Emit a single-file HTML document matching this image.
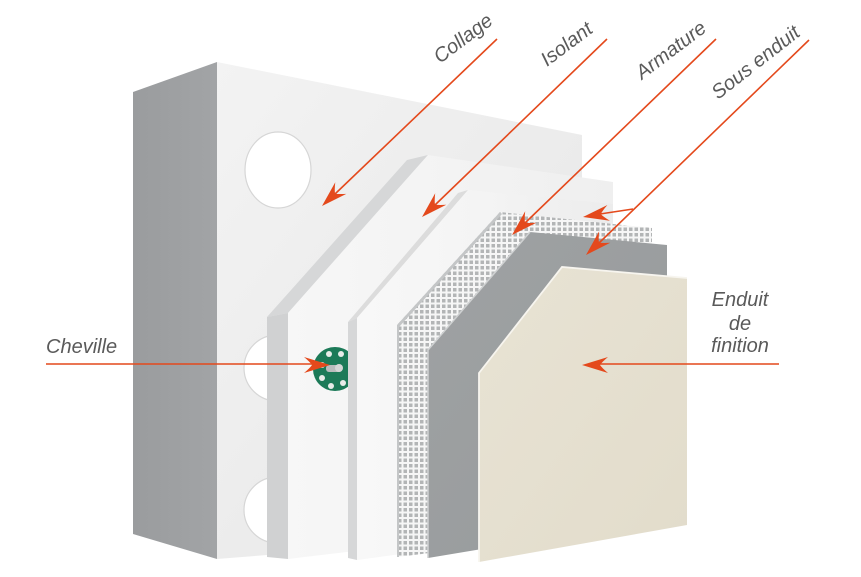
<!DOCTYPE html>
<html>
<head>
<meta charset="utf-8">
<style>
html,body{margin:0;padding:0;background:#fff;}
svg{display:block;}
text{font-family:"Liberation Sans",sans-serif;font-style:italic;font-size:20px;fill:#5a5a5a;}
</style>
</head>
<body>
<svg width="861" height="577" viewBox="0 0 861 577" xmlns="http://www.w3.org/2000/svg">
<defs>
  <linearGradient id="side" x1="0" y1="0" x2="1" y2="0">
    <stop offset="0" stop-color="#9a9c9e"/>
    <stop offset="1" stop-color="#a2a4a6"/>
  </linearGradient>
  <linearGradient id="front" x1="0" y1="0" x2="1" y2="1">
    <stop offset="0" stop-color="#f3f3f3"/>
    <stop offset="0.6" stop-color="#ebebeb"/>
    <stop offset="1" stop-color="#e2e2e2"/>
  </linearGradient>
  <linearGradient id="p1front" x1="0" y1="0" x2="1" y2="0">
    <stop offset="0" stop-color="#f7f7f7"/>
    <stop offset="1" stop-color="#efefef"/>
  </linearGradient>
  <linearGradient id="p2front" x1="0" y1="0" x2="1" y2="0">
    <stop offset="0" stop-color="#f8f8f8"/>
    <stop offset="0.5" stop-color="#f4f4f4"/>
    <stop offset="1" stop-color="#ececec"/>
  </linearGradient>
  <linearGradient id="grayL" x1="0" y1="0" x2="1" y2="1">
    <stop offset="0" stop-color="#9fa2a3"/>
    <stop offset="1" stop-color="#979a9c"/>
  </linearGradient>
  <linearGradient id="beige" x1="0" y1="0" x2="1" y2="1">
    <stop offset="0" stop-color="#e8e3d4"/>
    <stop offset="1" stop-color="#e2dccb"/>
  </linearGradient>
  <pattern id="mesh" width="5.5" height="5.5" patternUnits="userSpaceOnUse">
    <rect width="5.5" height="5.5" fill="#f6f6f6"/>
    <rect x="2" y="2" width="3.5" height="3.5" fill="#b3b5b6"/>
  </pattern>
  <path id="ah" d="M0,0 L-26,-8 Q-20,-3 -18,0 Q-20,3 -26,8 Z" fill="#e4491c"/>
</defs>

<!-- Block -->
<polygon points="133,92 217,62 217,559 133,534" fill="url(#side)"/>
<polygon points="217,62 582,135 582,515 267,555 217,559" fill="url(#front)"/>
<!-- holes -->
<ellipse cx="278" cy="170" rx="33" ry="38" fill="#ffffff" stroke="#d6d6d6" stroke-width="1.2"/>
<ellipse cx="277" cy="368" rx="33" ry="33" fill="#ffffff" stroke="#d6d6d6" stroke-width="1.2"/>
<ellipse cx="277" cy="510" rx="33" ry="33" fill="#ffffff" stroke="#d6d6d6" stroke-width="1.2"/>

<!-- Panel 1 -->
<polygon points="267,317 407,160 428,155 288,313" fill="#d6d7d8"/>
<polygon points="267,317 288,313 288,559 267,557" fill="#d0d1d2"/>
<polygon points="288,313 428,155 613,182 613,520 288,559" fill="url(#p1front)"/>

<!-- Cheville disk -->
<circle cx="335" cy="369" r="22" fill="#1c7a58"/>
<g fill="#e8ece9">
  <circle cx="329" cy="354" r="3"/>
  <circle cx="341" cy="354" r="3"/>
  <circle cx="322" cy="365" r="3"/>
  <circle cx="322" cy="378" r="3"/>
  <circle cx="331" cy="386" r="3"/>
  <circle cx="343" cy="383" r="3"/>
</g>
<rect x="326" y="365" width="16" height="7" rx="3" fill="#b9bcbd"/>
<circle cx="339" cy="368" r="4" fill="#d4d6d6"/>

<!-- Panel 2 -->
<polygon points="348,322 458,193 468,190 357,318" fill="#dcdcdc"/>
<polygon points="348,322 357,318 357,560 348,558" fill="#d6d7d8"/>
<polygon points="357,318 468,190 613,204 613,525 357,560" fill="url(#p2front)"/>

<!-- Mesh -->
<polygon points="397,325 500,212 652,228 652,300 430,553 397,557" fill="url(#mesh)"/>
<polygon points="397,325 500,212 502,214 399,327 399,557 397,557" fill="#c4c6c7"/>

<!-- Sous enduit (gray) -->
<polygon points="428,350 530,232 667,245 667,518 428,558" fill="url(#grayL)"/>
<polyline points="428,558 428,350 530,232" fill="none" stroke="#cfd1d2" stroke-width="1.5"/>

<!-- Enduit de finition (beige) -->
<polygon points="479,373 562,267 687,278 687,525 479,562" fill="url(#beige)"/>
<polyline points="479,562 479,373 562,267 687,278" fill="none" stroke="#f7f5ef" stroke-width="1.8"/>

<!-- Arrows -->
<g stroke="#e4491c" stroke-width="1.6" fill="none">
  <line x1="497" y1="39" x2="335" y2="194"/>
  <line x1="607" y1="39" x2="435" y2="205"/>
  <line x1="716" y1="39" x2="525" y2="223"/>
  <line x1="809" y1="40" x2="599" y2="243"/>
  <line x1="633" y1="209" x2="600" y2="214"/>
  <line x1="46" y1="364" x2="313" y2="364"/>
  <line x1="779" y1="364" x2="600" y2="364"/>
</g>
<use href="#ah" transform="translate(322,206) rotate(136.3)"/>
<use href="#ah" transform="translate(422,217) rotate(136.1)"/>
<use href="#ah" transform="translate(512,235) rotate(136.1)"/>
<use href="#ah" transform="translate(586,255) rotate(136.05)"/>
<use href="#ah" transform="translate(583,217) rotate(170.9)"/>
<use href="#ah" transform="translate(330,365) rotate(0)"/>
<use href="#ah" transform="translate(582,365) rotate(180)"/>

<!-- Labels -->
<text transform="translate(440,64) rotate(-37)">Collage</text>
<text transform="translate(547,67) rotate(-37)">Isolant</text>
<text transform="translate(642,80) rotate(-37)">Armature</text>
<text transform="translate(718,100) rotate(-38)">Sous enduit</text>
<text x="46" y="353">Cheville</text>
<text x="740" y="306" text-anchor="middle">Enduit</text>
<text x="740" y="330" text-anchor="middle">de</text>
<text x="740" y="352" text-anchor="middle">finition</text>
</svg>
</body>
</html>
